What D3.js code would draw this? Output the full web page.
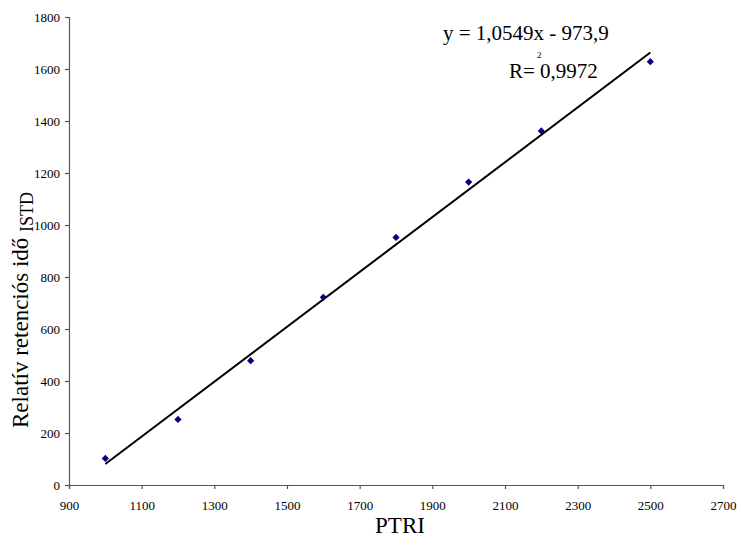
<!DOCTYPE html>
<html>
<head>
<script src="https://d3js.org/d3.v7.min.js"></script>
<style>
  body { margin: 0; background: #fff; }
  text { font-family: "Liberation Serif", "Times New Roman", serif; fill: #000; }
</style>
</head>
<body>
<div id="chart"></div>
<script>
// data
var ptri = [1000, 1200, 1400, 1600, 1800, 2000, 2200, 2500];
var relTime = [102, 252, 478, 722, 952, 1165, 1362, 1628];
var xTicks = [900, 1100, 1300, 1500, 1700, 1900, 2100, 2300, 2500, 2700];
var yTicks = [0, 200, 400, 600, 800, 1000, 1200, 1400, 1600, 1800];
var slope = 1.0549, intercept = -973.9;

var w = 741, h = 548;
var m = {left: 69, right: 18, top: 17, bottom: 63};

var svg = d3.select("#chart").append("svg")
  .attr("width", w).attr("height", h);

var x = d3.scaleLinear().domain([900, 2700]).range([m.left, w - m.right]);
var y = d3.scaleLinear().domain([0, 1800]).range([h - m.bottom, m.top]);

// axes
var xAxis = svg.append("g")
  .attr("transform", "translate(0," + (h - m.bottom) + ")")
  .call(d3.axisBottom(x).tickValues(xTicks).tickSize(4).tickPadding(12).tickFormat(d3.format("d")));
var yAxis = svg.append("g")
  .attr("transform", "translate(" + m.left + ",0)")
  .call(d3.axisLeft(y).tickValues(yTicks).tickSize(4).tickPadding(5).tickFormat(d3.format("d")));

[xAxis, yAxis].forEach(function(a) {
  a.select(".domain").attr("stroke", "#555").attr("stroke-width", 1.2);
  a.selectAll(".tick line").attr("stroke", "#555").attr("stroke-width", 1.2);
  a.selectAll(".tick text").style("font-family", "Liberation Serif").style("font-size", "13px").attr("fill", "#000");
});

// trend line
var x0 = d3.min(ptri), x1 = d3.max(ptri);
svg.append("line")
  .attr("x1", x(x0)).attr("y1", y(slope * x0 + intercept))
  .attr("x2", x(x1)).attr("y2", y(slope * x1 + intercept))
  .attr("stroke", "#000").attr("stroke-width", 2);

// points (square diamonds)
svg.selectAll(".pt")
  .data(ptri)
  .enter()
  .append("path")
  .attr("class", "pt")
  .attr("d", d3.symbol().type(d3.symbolSquare).size(26))
  .attr("transform", function(d, i) { return "translate(" + x(d) + "," + y(relTime[i]) + ") rotate(45)"; })
  .attr("fill", "#000080");

// equation
svg.append("text")
  .attr("x", 443).attr("y", 40)
  .style("font-size", "21px")
  .text("y = 1,0549x - 973,9");
svg.append("text")
  .attr("x", 509).attr("y", 78)
  .style("font-size", "21px")
  .text("R= 0,9972");
svg.append("text")
  .attr("x", 537).attr("y", 58)
  .style("font-size", "9px")
  .text("2");

// axis titles
svg.append("text")
  .attr("x", 400).attr("y", 533)
  .attr("text-anchor", "middle")
  .style("font-size", "23px")
  .text("PTRI");

var yt = svg.append("text")
  .attr("transform", "translate(28,428) rotate(-90)")
  .style("font-size", "23px");
yt.append("tspan").text("Relatív retenciós idő ");
yt.append("tspan").attr("dy", 5).style("font-size", "18px").text("ISTD");
</script>
</body>
</html>
